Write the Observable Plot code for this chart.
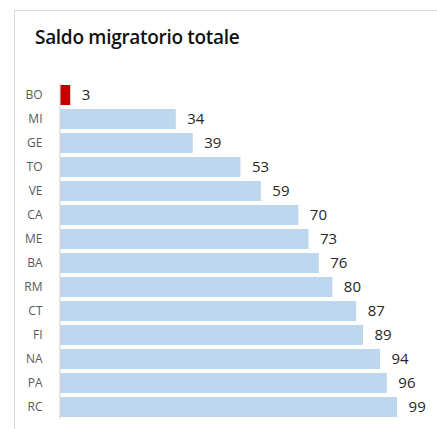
<!DOCTYPE html>
<html><head><meta charset="utf-8">
<script src="https://cdn.jsdelivr.net/npm/d3@7"></script>
<script src="https://cdn.jsdelivr.net/npm/@observablehq/plot@0.6"></script>
<style>
html,body{margin:0;padding:0;background:#fff;}
#wrap{position:relative;width:437px;height:429px;overflow:hidden;font-family:"Open Sans",sans-serif;}
#frame{position:absolute;left:14px;top:10px;width:440px;height:440px;border:1px solid #d9d9d9;box-sizing:border-box;}
#title{position:absolute;left:35px;top:24px;font-size:19px;line-height:26px;font-weight:600;color:#111;letter-spacing:-0.3px;}
#chart{position:absolute;left:0;top:0;}
</style></head>
<body><div id="wrap"><div id="frame"></div><div id="title">Saldo migratorio totale</div><div id="chart"></div></div>
<script>
const categories = ["BO","MI","GE","TO","VE","CA","ME","BA","RM","CT","FI","NA","PA","RC"];
const values = [3,34,39,53,59,70,73,76,80,87,89,94,96,99];
const highlight = ["BO"];

const data = categories.map((c,i)=>({cat:c, value:values[i], hi: highlight.includes(c)}));

const chart = Plot.plot({
  width:437, height:429,
  marginTop:83, marginBottom:10, marginLeft:60, marginRight:2.5,
  style:{background:"transparent", fontFamily:"'Open Sans',sans-serif"},
  x:{domain:[0,110], axis:null},
  y:{domain:categories, paddingInner:0.17, paddingOuter:0.085, axis:null},
  marks:[
    Plot.barX(data,{y:"cat", x:"value", fill:d=>d.hi?"#C00000":"#BDD7EE"}),
    Plot.ruleX([0],{stroke:"#d9d9d9", strokeWidth:1.2, dx:-0.5}),
    Plot.axisY({tickSize:0, tickPadding:18, fontSize:12, fill:"#595959", label:null}),
    Plot.text(data,{y:"cat", x:"value", text:d=>String(d.value), dx:11, textAnchor:"start", fontSize:15, fill:"#262626"})
  ]
});
document.getElementById("chart").appendChild(chart);
</script></body></html>
